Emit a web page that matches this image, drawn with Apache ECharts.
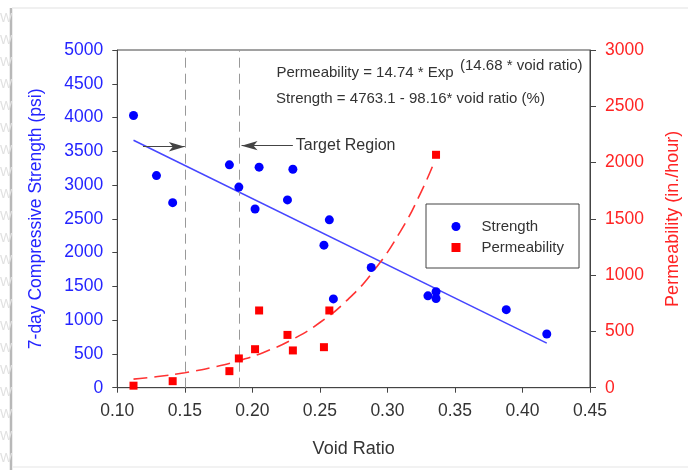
<!DOCTYPE html>
<html>
<head>
<meta charset="utf-8">
<script src="https://cdn.jsdelivr.net/npm/echarts@6/dist/echarts.min.js"></script>
<style>
html,body{margin:0;padding:0;background:#fff;}
#chart{width:688px;height:470px;}
</style>
</head>
<body>
<div id="chart"></div>
<script>
// ---- data ----
const strengthX = [0.112, 0.129, 0.141, 0.183, 0.190, 0.202, 0.205, 0.226, 0.230, 0.257, 0.253, 0.260, 0.288, 0.330, 0.336, 0.336, 0.388, 0.418];
const strengthY = [4030, 3140, 2740, 3300, 2970, 2645, 3265, 2780, 3235, 2485, 2110, 1315, 1780, 1360, 1420, 1320, 1155, 795];
const permX = [0.112, 0.141, 0.183, 0.190, 0.202, 0.205, 0.226, 0.230, 0.253, 0.257, 0.336];
const permY = [18, 58, 147, 260, 342, 686, 469, 331, 360, 686, 2069];
const strengthFitX = [0.112, 0.418];
const strengthFitY = [3664, 660];
const permFitX = [0.112, 0.13, 0.15, 0.17, 0.19, 0.21, 0.23, 0.25, 0.27, 0.29, 0.31, 0.325, 0.335];
const permFitY = [76, 99, 133, 179, 240, 322, 431, 579, 776, 1041, 1396, 1740, 2015];
const targetLines = [0.15, 0.192];
const xTicks = {min: 0.10, max: 0.45, step: 0.05};
const leftTicks = {min: 0, max: 5000, step: 500};
const rightTicks = {min: 0, max: 3000, step: 500};
const eqPerm = 'Permeability = 14.74 * Exp';
const eqPermSup = '(14.68 * void ratio)';
const eqStrength = 'Strength = 4763.1 - 98.16* void ratio (%)';

const zip = (a, b) => a.map((v, i) => [v, b[i]]);
const FONT = '"Liberation Sans", Arial, Helvetica, sans-serif';
const BLUE = '#2424ff', RED = '#ff2424', DARK = '#333333';

const chart = echarts.init(document.getElementById('chart'), null, {renderer: 'canvas'});

const wGraphics = [];
for (let y = 12; y < 470; y += 22) {
  wGraphics.push({type: 'text', left: 0, top: y, silent: true,
    style: {text: 'W', fill: '#e0e0e0', font: '13px ' + FONT}});
}

chart.setOption({
  animation: false,
  backgroundColor: '#ffffff',
  textStyle: {fontFamily: FONT},
  grid: {left: 117.3, right: 98, top: 50, bottom: 82.3, show: true,
    borderColor: '#444', borderWidth: 1, backgroundColor: '#fff', outerBoundsMode: 'none'},
  legend: {
    orient: 'vertical', left: 426, top: 204,
    data: ['Strength', 'Permeability'],
    itemWidth: 9, itemHeight: 9, itemGap: 6,
    padding: [15, 15, 13, 25.5],
    borderColor: '#444', borderWidth: 1, backgroundColor: '#fff',
    textStyle: {fontSize: 15, color: DARK, fontFamily: FONT, padding: [0, 0, 0, 16]}
  },
  xAxis: {
    type: 'value', min: xTicks.min, max: xTicks.max, interval: xTicks.step,
    name: 'Void Ratio', nameLocation: 'middle', nameGap: 52,
    nameTextStyle: {fontSize: 18, color: DARK, fontFamily: FONT},
    axisLine: {show: true, onZero: false, lineStyle: {color: '#444'}},
    axisTick: {show: true, length: 5, lineStyle: {color: '#444'}},
    axisLabel: {fontSize: 17.5, color: DARK, margin: 14, formatter: v => v.toFixed(2)},
    splitLine: {show: false}
  },
  yAxis: [{
    type: 'value', position: 'left', min: leftTicks.min, max: leftTicks.max, interval: leftTicks.step,
    name: '7-day Compressive Strength (psi)', nameLocation: 'middle', nameGap: 72, nameRotate: 90,
    nameTextStyle: {fontSize: 17.5, color: BLUE, fontFamily: FONT},
    axisLine: {show: true, lineStyle: {color: '#444'}},
    axisTick: {show: true, length: 5, lineStyle: {color: '#444'}},
    axisLabel: {fontSize: 17.5, color: BLUE, margin: 14, formatter: v => String(v)},
    splitLine: {show: false}
  }, {
    type: 'value', position: 'right', min: rightTicks.min, max: rightTicks.max, interval: rightTicks.step,
    name: 'Permeability (in./hour)', nameLocation: 'middle', nameGap: 74, nameRotate: 90,
    nameTextStyle: {fontSize: 18, color: RED, fontFamily: FONT},
    axisLine: {show: true, lineStyle: {color: '#444'}},
    axisTick: {show: true, length: 6, lineStyle: {color: '#444'}},
    axisLabel: {fontSize: 17.5, color: RED, margin: 15, formatter: v => String(v)},
    splitLine: {show: false}
  }],
  series: [{
    name: 'Strength fit', type: 'line', yAxisIndex: 0, data: zip(strengthFitX, strengthFitY),
    symbol: 'none', lineStyle: {color: '#4646ff', width: 1.5}, z: 2, silent: true,
    markLine: {
      silent: true, symbol: ['none', 'none'], animation: false,
      label: {show: false},
      data: [
        ...targetLines.map(v => ({xAxis: v, lineStyle: {color: '#999', width: 1, type: [10, 6]}, label: {show: false}})),
        [{coord: [0.119, 3568], symbol: 'none', lineStyle: {color: '#444', width: 1, type: 'solid'}, label: {show: false}},
         {coord: [0.150, 3568], symbol: 'arrow', symbolSize: [7, 16]}],
        [{coord: [0.230, 3583], symbol: 'none', lineStyle: {color: '#444', width: 1, type: 'solid'},
          label: {show: true, position: 'start', formatter: 'Target Region', fontSize: 16, color: DARK, fontFamily: FONT, distance: 3}},
         {coord: [0.192, 3583], symbol: 'arrow', symbolSize: [7, 16]}]
      ]
    }
  }, {
    name: 'Permeability fit', type: 'line', yAxisIndex: 1, data: zip(permFitX, permFitY),
    symbol: 'none', smooth: true, lineStyle: {color: '#ff3333', width: 1.6, type: [14, 7]}, z: 2, silent: true
  }, {
    name: 'Strength', type: 'scatter', yAxisIndex: 0, data: zip(strengthX, strengthY),
    symbol: 'circle', symbolSize: 9, itemStyle: {color: '#0000ff', opacity: 1}, z: 5
  }, {
    name: 'Permeability', type: 'scatter', yAxisIndex: 1, data: zip(permX, permY),
    symbol: 'rect', symbolSize: 8, itemStyle: {color: '#ff0000', opacity: 1}, z: 5
  }],
  graphic: [
    {type: 'line', silent: true, shape: {x1: 11, y1: 8, x2: 11, y2: 470}, style: {stroke: '#b8b8b8', lineWidth: 2.5}},
    {type: 'line', silent: true, shape: {x1: 12, y1: 8, x2: 688, y2: 8}, style: {stroke: '#ebebeb', lineWidth: 1.5}},
    {type: 'line', silent: true, shape: {x1: 12, y1: 467, x2: 688, y2: 467}, style: {stroke: '#eeeeee', lineWidth: 1.5}},
    ...wGraphics,
    {type: 'text', left: 276.5, top: 65, silent: true, z: 10,
      style: {text: eqPerm, fill: DARK, font: '15px ' + FONT}},
    {type: 'text', left: 460, top: 58, silent: true, z: 10,
      style: {text: eqPermSup, fill: DARK, font: '15px ' + FONT}},
    {type: 'text', left: 276, top: 91, silent: true, z: 10,
      style: {text: eqStrength, fill: DARK, font: '15px ' + FONT}}
  ]
});
</script>
</body>
</html>
